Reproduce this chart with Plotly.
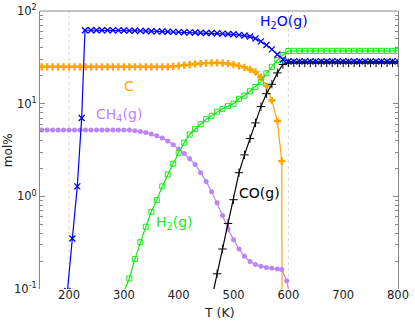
import plotly.graph_objects as go

# temperatures (K) and mol% for each species
t_h2o = [197, 206, 215, 223, 229,
         240, 250, 260, 270, 280, 290, 300, 310, 320, 330,
         340, 350, 360, 370, 380, 390, 400, 410, 420, 430,
         440, 450, 460, 470, 480, 490, 500, 510, 520, 530,
         540, 550, 560, 570, 580, 590, 600, 610, 620, 630,
         640, 650, 660, 670, 680, 690, 700, 710, 720, 730,
         740, 750, 760, 770, 780, 790, 800]
h2o = [0.095, 0.35, 1.28, 7.0, 62,
       62, 62, 62, 62, 62, 61.8, 61.6, 61.4, 61.2, 61.0,
       60.8, 60.5, 60.3, 60.0, 59.8, 59.5, 59.2, 59.0, 58.8, 58.5,
       58.3, 58.0, 57.8, 57.5, 57.0, 56.5, 56.0, 55.3, 54.3, 53.0,
       50.5, 47.0, 43.0, 38.5, 34.0, 30.0, 28.6, 28.6, 28.6, 28.6,
       28.6, 28.6, 28.6, 28.6, 28.6, 28.6, 28.6, 28.6, 28.6, 28.6,
       28.6, 28.6, 28.6, 28.6, 28.6, 28.6, 28.6]

t_c = [150, 160, 170, 180, 190, 200, 210, 220, 230, 240,
       250, 260, 270, 280, 290, 300, 310, 320, 330, 340,
       350, 360, 370, 380, 390, 400, 410, 420, 430, 440,
       450, 460, 470, 480, 490, 500, 510, 520, 530, 540,
       550, 560, 570, 580, 588, 589]
c = [25.0, 25.0, 25.0, 25.0, 25.0, 25.0, 25.0, 25.0, 25.0, 25.0,
     25.0, 25.0, 25.0, 25.0, 25.0, 25.0, 25.0, 25.0, 25.0, 25.0,
     25.0, 25.0, 25.0, 25.0, 25.3, 25.6, 26.0, 26.4, 26.8, 27.1,
     27.4, 27.5, 27.6, 27.4, 27.0, 26.4, 25.6, 24.7, 23.4, 21.9,
     19.3, 15.5, 10.8, 6.5, 2.4, 0.001]

t_ch4 = [150, 160, 170, 180, 190, 200, 210, 220, 230, 240,
         250, 260, 270, 280, 290, 300, 310, 320, 330, 340,
         350, 360, 370, 380, 390, 400, 410, 420, 430, 440,
         450, 460, 470, 480, 490, 500, 510, 520, 530, 540,
         550, 560, 570, 580, 588, 597, 605]
ch4 = [5.2, 5.2, 5.2, 5.2, 5.2, 5.2, 5.2, 5.2, 5.2, 5.2,
       5.2, 5.2, 5.2, 5.2, 5.2, 5.2, 5.2, 5.1, 5.0, 4.88,
       4.7, 4.5, 4.25, 3.95, 3.6, 3.25, 2.9, 2.55, 2.2, 1.8,
       1.45, 1.12, 0.85, 0.62, 0.44, 0.34, 0.27, 0.225, 0.198, 0.184,
       0.176, 0.171, 0.167, 0.164, 0.162, 0.123, 0.07]

t_h2 = [300, 310, 320, 330, 340, 350, 360, 370, 380, 390,
        400, 410, 420, 430, 440, 450, 460, 470, 480, 490,
        500, 510, 520, 530, 540, 550, 560, 570, 580, 590,
        600, 610, 620, 630, 640, 650, 660, 670, 680, 690,
        700, 710, 720, 730, 740, 750, 760, 770, 780, 790, 800]
h2 = [0.093, 0.13, 0.21, 0.32, 0.47, 0.68, 0.91, 1.28, 1.72, 2.25,
      2.95, 3.8, 4.65, 5.35, 6.0, 6.8, 7.4, 8.2, 8.8, 9.4,
      10.0, 11.3, 12.2, 13.6, 15.2, 17.2, 21.3, 25.0, 29.5, 33.5,
      37.0, 37.2, 37.2, 37.2, 37.2, 37.2, 37.2, 37.2, 37.2, 37.2,
      37.2, 37.2, 37.2, 37.2, 37.2, 37.2, 37.2, 37.2, 37.2, 37.2, 37.2]

t_co = [460, 470, 480, 490, 500, 510, 520, 530, 540, 550,
        560, 570, 580, 590, 600, 610, 620, 630, 640, 650,
        660, 670, 680, 690, 700, 710, 720, 730, 740, 750,
        760, 770, 780, 790, 800]
co = [0.077, 0.146, 0.27, 0.51, 0.92, 1.8, 2.8, 4.2, 6.2, 9.3,
      12.8, 16.2, 21.5, 26.5, 27.5, 27.5, 27.5, 27.5, 27.5, 27.5,
      27.5, 27.5, 27.5, 27.5, 27.5, 27.5, 27.5, 27.5, 27.5, 27.5,
      27.5, 27.5, 27.5, 27.5, 27.5]

x_ticks = [200, 300, 400, 500, 600, 700, 800]
y_ticks = [0.1, 1, 10, 100]
y_ticktext = ["10<sup>-1</sup>", "10<sup>0</sup>", "10<sup>1</sup>", "10<sup>2</sup>"]

BLUE = "#0000ff"
ORANGE = "#ffa500"
PURPLE = "#bb85f7"
GREEN = "#19e619"
BLACK = "#000000"
FONT = "DejaVu Sans"

fig = go.Figure()

# C
fig.add_trace(go.Scatter(
    x=t_c, y=c, mode="lines+markers",
    line=dict(color=ORANGE, width=1.2),
    marker=dict(symbol="cross", size=6, color=ORANGE)
))

# CH4(g)
fig.add_trace(go.Scatter(
    x=t_ch4, y=ch4, mode="lines+markers",
    line=dict(color=PURPLE, width=1.2),
    marker=dict(symbol="circle", size=5, color=PURPLE)
))

# H2(g)
fig.add_trace(go.Scatter(
    x=t_h2, y=h2, mode="lines+markers",
    line=dict(color=GREEN, width=1.2),
    marker=dict(symbol="square-open", size=5, color=GREEN, line=dict(width=1))
))

# CO(g)
fig.add_trace(go.Scatter(
    x=t_co, y=co, mode="lines+markers",
    line=dict(color=BLACK, width=1.2),
    marker=dict(symbol="cross-thin-open", size=6, color=BLACK, line=dict(width=1))
))

# H2O(g)
fig.add_trace(go.Scatter(
    x=t_h2o, y=h2o, mode="lines+markers",
    line=dict(color=BLUE, width=1.2),
    marker=dict(symbol="x-thin-open", size=6, color=BLUE, line=dict(width=1.3))
))

# species labels
labels = [
    ("H<sub>2</sub>O(g)", 592, 1.88, BLUE),
    ("C", 309, 1.19, ORANGE),
    ("CH<sub>4</sub>(g)", 291, 0.88, PURPLE),
    ("H<sub>2</sub>(g)", 392, -0.29, GREEN),
    ("CO(g)", 547, 0.04, BLACK),
]
annotations = [
    dict(x=x, y=y, xref="x", yref="y", text=t, showarrow=False,
         xanchor="center", yanchor="middle",
         font=dict(family=FONT, size=14, color=col))
    for t, x, y, col in labels
]
annotations.append(dict(x=-0.089, y=0.5, xref="paper", yref="paper", text="mol%",
                        textangle=-90, showarrow=False, xanchor="center", yanchor="middle",
                        font=dict(family=FONT, size=12, color="#222")))
annotations.append(dict(x=0.5, y=-0.083, xref="paper", yref="paper", text="T (K)",
                        showarrow=False, xanchor="center", yanchor="middle",
                        font=dict(family=FONT, size=12.5, color="#222")))

minor_vals = [m * 10 ** e for e in (-1, 0, 1) for m in range(2, 10)]

fig.update_layout(
    width=415, height=323,
    margin=dict(l=40, r=17, t=11, b=34, autoexpand=False),
    paper_bgcolor="white", plot_bgcolor="white",
    showlegend=False,
    font=dict(family=FONT, size=11.5, color="#222"),
    xaxis=dict(
        range=[147, 800], tickvals=x_ticks, automargin=False,
        showgrid=False, zeroline=False, showline=False, ticks="",
        ticklabelstandoff=-3,
        tickfont=dict(family=FONT, size=11.5, color="#222")
    ),
    yaxis=dict(
        type="log", range=[-1, 2], automargin=False,
        tickmode="array", tickvals=y_ticks, ticktext=y_ticktext,
        showgrid=False, zeroline=False,
        showline=True, linecolor="#888", linewidth=1, mirror="ticks",
        ticks="inside", ticklen=5, tickcolor="#888",
        minor=dict(tickmode="array", tickvals=minor_vals, ticks="inside",
                   ticklen=3, tickcolor="#888", showgrid=False),
        tickfont=dict(family=FONT, size=11.5, color="#222")
    ),
    annotations=annotations,
    shapes=[
        dict(type="line", xref="x", yref="paper", x0=200, x1=200, y0=0, y1=1,
             line=dict(color="#d4d4d4", width=1, dash="dot"), layer="below"),
        dict(type="line", xref="x", yref="paper", x0=600, x1=600, y0=0, y1=1,
             line=dict(color="#d4d4d4", width=1, dash="dot"), layer="below"),
        dict(type="line", xref="paper", yref="paper", x0=0, x1=1, y0=1, y1=1,
             line=dict(color="#888", width=1)),
    ]
)

# the page's default body margin would shift the figure by 8px
fig.write_html("out.html", config={"displayModeBar": False},
               post_script="document.body.style.margin = '0';")
